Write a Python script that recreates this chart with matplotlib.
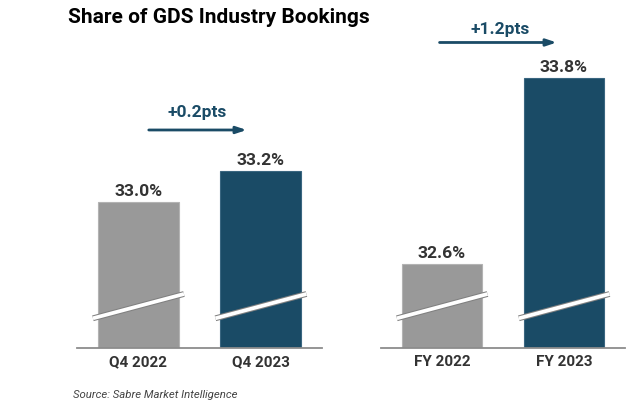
import matplotlib
matplotlib.use("Agg")
import matplotlib.pyplot as plt

plt.rcParams['font.family'] = ['Roboto', 'DejaVu Sans']

# ---- data ----
q_categories = ["Q4 2022", "Q4 2023"]
q_values = [33.0, 33.2]
q_change = "+0.2pts"
fy_categories = ["FY 2022", "FY 2023"]
fy_values = [32.6, 33.8]
fy_change = "+1.2pts"
title = "Share of GDS Industry Bookings"
source = "Source: Sabre Market Intelligence"

GRAY = "#999999"
GRAY_EDGE = "#b3b3b3"
NAVY = "#1a4b66"
NAVY_EDGE = "#3a6680"
TXT = "#333333"

W, H = 640, 407
fig = plt.figure(figsize=(W / 100, H / 100), dpi=100)

y_lo, y_hi = 32.06, 34.047  # truncated (broken) axis
PX = 155.0  # pixels per data unit


def make_panel(rect, cats, vals):
    ax = fig.add_axes(rect)
    x = list(range(len(cats)))
    ax.bar(x, vals, width=0.66, bottom=0,
           color=[GRAY, NAVY], edgecolor=[GRAY_EDGE, NAVY_EDGE], linewidth=0.8,
           zorder=2)
    ax.set_xlim(-0.5, 1.5)
    ax.set_ylim(y_lo, y_hi)
    for s in ["top", "right", "left"]:
        ax.spines[s].set_visible(False)
    ax.spines["bottom"].set_color("#8c8c8c")
    ax.spines["bottom"].set_linewidth(1.3)
    ax.set_yticks([])
    ax.set_xticks(x)
    ax.set_xticklabels(cats, fontsize=11, fontweight="bold", color=TXT)
    ax.tick_params(axis="x", length=0, pad=5)
    for xi, v in zip(x, vals):
        ax.annotate(f"{v:.1f}%", (xi, v), xytext=(0, 4.5), textcoords="offset points",
                    ha="center", va="baseline", fontsize=12.6, fontweight="bold",
                    color=TXT)
        # break marks
        bx = [xi - 0.37, xi + 0.373]
        by = [y_lo + 29.7 / PX, y_lo + 54 / PX]
        ax.plot(bx, by, color="#808080", lw=4.2, solid_capstyle="butt", zorder=3,
                clip_on=False)
        ax.plot(bx, by, color="white", lw=2.7, solid_capstyle="butt", zorder=4,
                clip_on=False)
    ax.patch.set_alpha(0)
    return ax


ax1 = make_panel([77 / W, 59 / H, 245 / W, 308 / H], q_categories, q_values)
ax2 = make_panel([381 / W, 59 / H, 244 / W, 308 / H], fy_categories, fy_values)

arrow_style = dict(arrowstyle="-|>,head_length=0.6,head_width=0.2",
                   color=NAVY, lw=2, shrinkA=0, shrinkB=0)

# change arrows
y_a1 = y_lo + (348 - 130) / PX
ax1.annotate("", xy=(0.885, y_a1), xytext=(0.086, y_a1),
             arrowprops=arrow_style, annotation_clip=False)
ax1.text(0.48, y_a1 + 13 / PX, q_change, ha="center", va="baseline",
         fontsize=12.5, fontweight="bold", color=NAVY)

y_a2 = y_lo + (348 - 42.5) / PX
ax2.annotate("", xy=(0.94, y_a2), xytext=(-0.02, y_a2),
             arrowprops=arrow_style, annotation_clip=False)
ax2.text(0.473, y_a2 + 8.5 / PX, fy_change, ha="center", va="baseline",
         fontsize=12.5, fontweight="bold", color=NAVY, clip_on=False)

fig.text(68 / W, 1 - 23 / H, title, ha="left", va="baseline",
         fontsize=15, fontweight="bold", color="black")
fig.text(73 / W, 1 - 398 / H, source, ha="left", va="baseline",
         fontsize=8.2, style="italic", color="#444444")

fig.savefig("out.png", dpi=100, facecolor="white")
